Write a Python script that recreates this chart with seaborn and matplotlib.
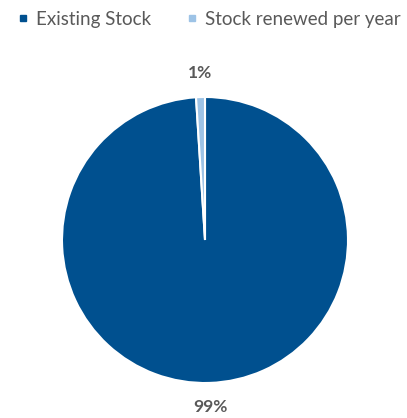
import matplotlib
matplotlib.use("Agg")
import matplotlib.pyplot as plt
from matplotlib.lines import Line2D
import seaborn as sns

categories = ["Existing Stock", "Stock renewed per year"]
shares = [99, 1]
colors = ["#00508F", "#9DC3E6"]

sns.set_theme(style="white")
plt.rcParams["font.family"] = ["Lato", "DejaVu Sans"]

W, H = 407, 418
fig = plt.figure(figsize=(W / 100, H / 100), dpi=100)
ax = fig.add_axes([0, 0, 1, 1])

wedges, texts, autotexts = ax.pie(
    shares,
    colors=colors,
    startangle=90,
    counterclock=False,
    center=(205, H - 240),
    radius=143,
    autopct="%.0f%%",
    pctdistance=1.17,
    wedgeprops=dict(edgecolor="white", linewidth=1.5),
    textprops=dict(color="#595959", fontsize=12.5, fontweight="bold"),
    frame=True,
)
ax.set_xlim(0, W)
ax.set_ylim(0, H)
ax.set_aspect("equal")
ax.axis("off")

handles = [Line2D([0], [0], marker="s", linestyle="none", markersize=5,
                  markerfacecolor=c, markeredgecolor=c) for c in colors]
fig.legend(handles, categories, loc="upper left", bbox_to_anchor=(0.0, 1.005),
           ncol=2, frameon=False, fontsize=13.5, labelcolor="#595959",
           handletextpad=0.2, columnspacing=1.7, handlelength=1.0,
           borderaxespad=0.3)

fig.savefig("out.png", dpi=100)
